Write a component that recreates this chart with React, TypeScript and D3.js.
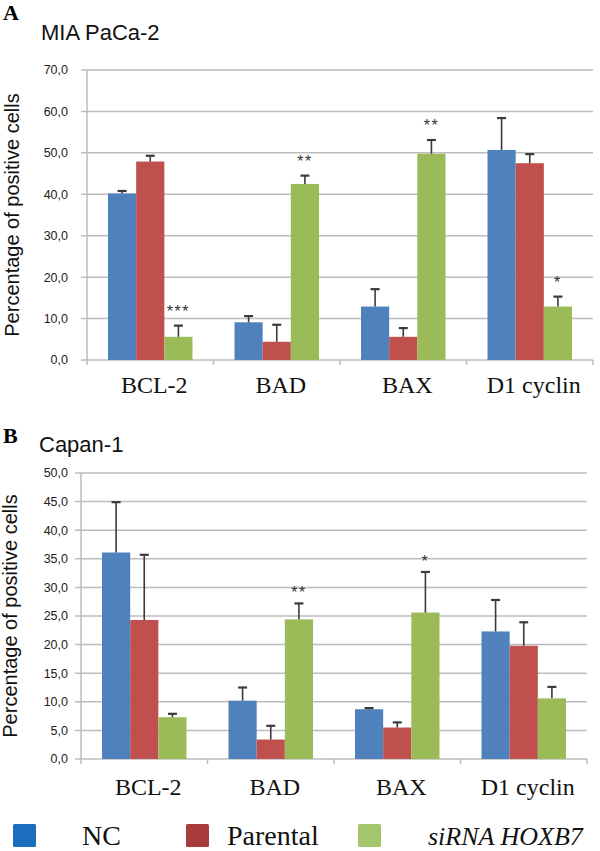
import React from "react";
import * as d3 from "d3";

const categories = ["BCL-2", "BAD", "BAX", "D1 cyclin"];
const seriesNames = ["NC", "Parental", "siRNA HOXB7"];
const seriesColors = ["#4F81BD", "#C0504D", "#9BBB59"];
const legendColors = ["#1C6DBE", "#A83B3B", "#A3C66C"];

// Panel A: MIA PaCa-2
const aNC = [40.2, 9.1, 12.9, 50.7];
const aNCErr = [0.6, 1.5, 4.2, 7.7];
const aParental = [47.9, 4.4, 5.6, 47.5];
const aParentalErr = [1.4, 4.1, 2.1, 2.2];
const aSiRNA = [5.6, 42.5, 49.8, 12.9];
const aSiRNAErr = [2.7, 2.0, 3.3, 2.4];
const aSignif = ["***", "**", "**", "*"];
const aTicks = [0, 10, 20, 30, 40, 50, 60, 70];

// Panel B: Capan-1
const bNC = [36.1, 10.2, 8.7, 22.3];
const bNCErr = [8.8, 2.3, 0.2, 5.5];
const bParental = [24.3, 3.4, 5.5, 19.8];
const bParentalErr = [11.4, 2.4, 0.9, 4.1];
const bSiRNA = [7.3, 24.4, 25.6, 10.6];
const bSiRNAErr = [0.6, 2.8, 7.1, 2.0];
const bSignif = ["", "**", "*", ""];
const bTicks = [0, 5, 10, 15, 20, 25, 30, 35, 40, 45, 50];

const locale = d3.formatLocale({ decimal: ",", thousands: ".", grouping: [3], currency: ["", "€"] });
const fmt = locale.format(".1f");

type PanelProps = {
  letter: string;
  title: string;
  letterY: number;
  titleX: number;
  titleY: number;
  xLeft: number;
  xRight: number;
  yBottom: number;
  yTop: number;
  ticks: number[];
  values: number[][];
  errors: number[][];
  signif: string[];
  starGap: number;
  yLabelX: number;
  catLabelY: number;
};

function Panel(p: PanelProps) {
  const maxV = p.ticks[p.ticks.length - 1];
  const y = d3.scaleLinear().domain([0, maxV]).range([p.yBottom, p.yTop]);
  const x0 = d3.scaleBand<string>().domain(categories).range([p.xLeft, p.xRight]).padding(0);
  const bw = x0.bandwidth();
  const x1 = d3
    .scaleBand<string>()
    .domain(seriesNames)
    .range([bw * 0.166, bw * 0.834])
    .padding(0);
  const grid = "#BDBDBD";
  const errColor = "#3A3A3A";
  const fontSans = "'Liberation Sans', Arial, sans-serif";
  const fontSerif = "'Liberation Serif', 'Times New Roman', serif";
  const boundaries = [p.xLeft, ...categories.map((c) => (x0(c) as number) + bw)];
  const midY = (p.yBottom + p.yTop) / 2;
  return (
    <g>
      <text x={3} y={p.letterY} fontFamily={fontSerif} fontWeight="bold" fontSize={22} fill="#000">
        {p.letter}
      </text>
      <text x={p.titleX} y={p.titleY} fontFamily={fontSans} fontSize={22} fill="#111">
        {p.title}
      </text>
      {/* gridlines and y ticks */}
      {p.ticks.map((t) => (
        <g key={"g" + t}>
          <line x1={p.xLeft - 6} x2={p.xRight} y1={y(t)} y2={y(t)} stroke={grid} strokeWidth={1.5} />
          <text
            x={68}
            y={y(t)}
            dy="0.35em"
            textAnchor="end"
            fontFamily={fontSans}
            fontSize={12.5}
            fill="#222"
          >
            {fmt(t)}
          </text>
        </g>
      ))}
      <line x1={p.xLeft} x2={p.xLeft} y1={y(0)} y2={y(maxV)} stroke={grid} strokeWidth={1.5} />
      {boundaries.map((b, i) => (
        <line key={"b" + i} x1={b} x2={b} y1={y(0)} y2={y(0) + 5} stroke={grid} strokeWidth={1.5} />
      ))}
      {/* y label */}
      <text
        transform={`translate(${p.yLabelX},${midY}) rotate(-90)`}
        textAnchor="middle"
        fontFamily={fontSans}
        fontSize={20}
        fill="#111"
      >
        Percentage of positive cells
      </text>
      {/* bars */}
      {seriesNames.map((s, si) =>
        categories.map((c, ci) => {
          const v = p.values[si][ci];
          const bx = (x0(c) as number) + (x1(s) as number);
          return (
            <rect
              key={s + c}
              x={bx}
              y={y(v)}
              width={x1.bandwidth()}
              height={y(0) - y(v)}
              fill={seriesColors[si]}
            />
          );
        })
      )}
      {/* error bars */}
      {seriesNames.map((s, si) =>
        categories.map((c, ci) => {
          const v = p.values[si][ci];
          const e = p.errors[si][ci];
          const cx = (x0(c) as number) + (x1(s) as number) + x1.bandwidth() / 2;
          return (
            <g key={"e" + s + c}>
              <line x1={cx} x2={cx} y1={y(v)} y2={y(v + e)} stroke={errColor} strokeWidth={1.6} />
              <line x1={cx - 4.5} x2={cx + 4.5} y1={y(v + e)} y2={y(v + e)} stroke={errColor} strokeWidth={2.2} />
            </g>
          );
        })
      )}
      {/* significance */}
      {categories.map((c, ci) => {
        const lab = p.signif[ci];
        if (!lab) return null;
        const si = 2;
        const v = p.values[si][ci] + p.errors[si][ci];
        const cx = (x0(c) as number) + (x1(seriesNames[si]) as number) + x1.bandwidth() / 2;
        return (
          <text
            key={"s" + c}
            x={cx}
            y={y(v) - p.starGap}
            textAnchor="middle"
            fontFamily={fontSans}
            fontSize={16}
            letterSpacing={1.5}
            fill="#333"
          >
            {lab}
          </text>
        );
      })}
      {/* category labels */}
      {categories.map((c) => (
        <text
          key={"c" + c}
          x={(x0(c) as number) + bw / 2 + 4}
          y={p.catLabelY}
          textAnchor="middle"
          fontFamily={fontSerif}
          fontSize={24}
          fill="#111"
        >
          {c}
        </text>
      ))}
    </g>
  );
}

export default function App() {
  const fontSerif = "'Liberation Serif', 'Times New Roman', serif";
  const legendX = [13, 186, 358];
  const legendTextX = [82, 227, 428];
  return (
    <svg
      width={600}
      height={851}
      style={{ position: "absolute", left: 0, top: 0, background: "#fff" }}
    >
      <rect x={0} y={0} width={600} height={851} fill="#fff" />
      <Panel
        letter="A"
        title="MIA PaCa-2"
        letterY={20}
        titleX={41}
        titleY={40}
        xLeft={87}
        xRight={593}
        yBottom={360}
        yTop={70}
        ticks={aTicks}
        values={[aNC, aParental, aSiRNA]}
        errors={[aNCErr, aParentalErr, aSiRNAErr]}
        signif={aSignif}
        starGap={9}
        yLabelX={19}
        catLabelY={393}
      />
      <Panel
        letter="B"
        title="Capan-1"
        letterY={443}
        titleX={39}
        titleY={452}
        xLeft={81}
        xRight={587}
        yBottom={759}
        yTop={473}
        ticks={bTicks}
        values={[bNC, bParental, bSiRNA]}
        errors={[bNCErr, bParentalErr, bSiRNAErr]}
        signif={bSignif}
        starGap={5}
        yLabelX={17}
        catLabelY={795}
      />
      {/* legend */}
      {seriesNames.map((s, i) => (
        <g key={"l" + s}>
          <rect x={legendX[i]} y={824} width={23} height={23} fill={legendColors[i]} rx={1.5} />
          <text
            x={legendTextX[i]}
            y={845}
            fontFamily={fontSerif}
            fontSize={i === 2 ? 26 : 28}
            fontStyle={i === 2 ? "italic" : "normal"}
            fill="#111"
          >
            {s}
          </text>
        </g>
      ))}
    </svg>
  );
}
